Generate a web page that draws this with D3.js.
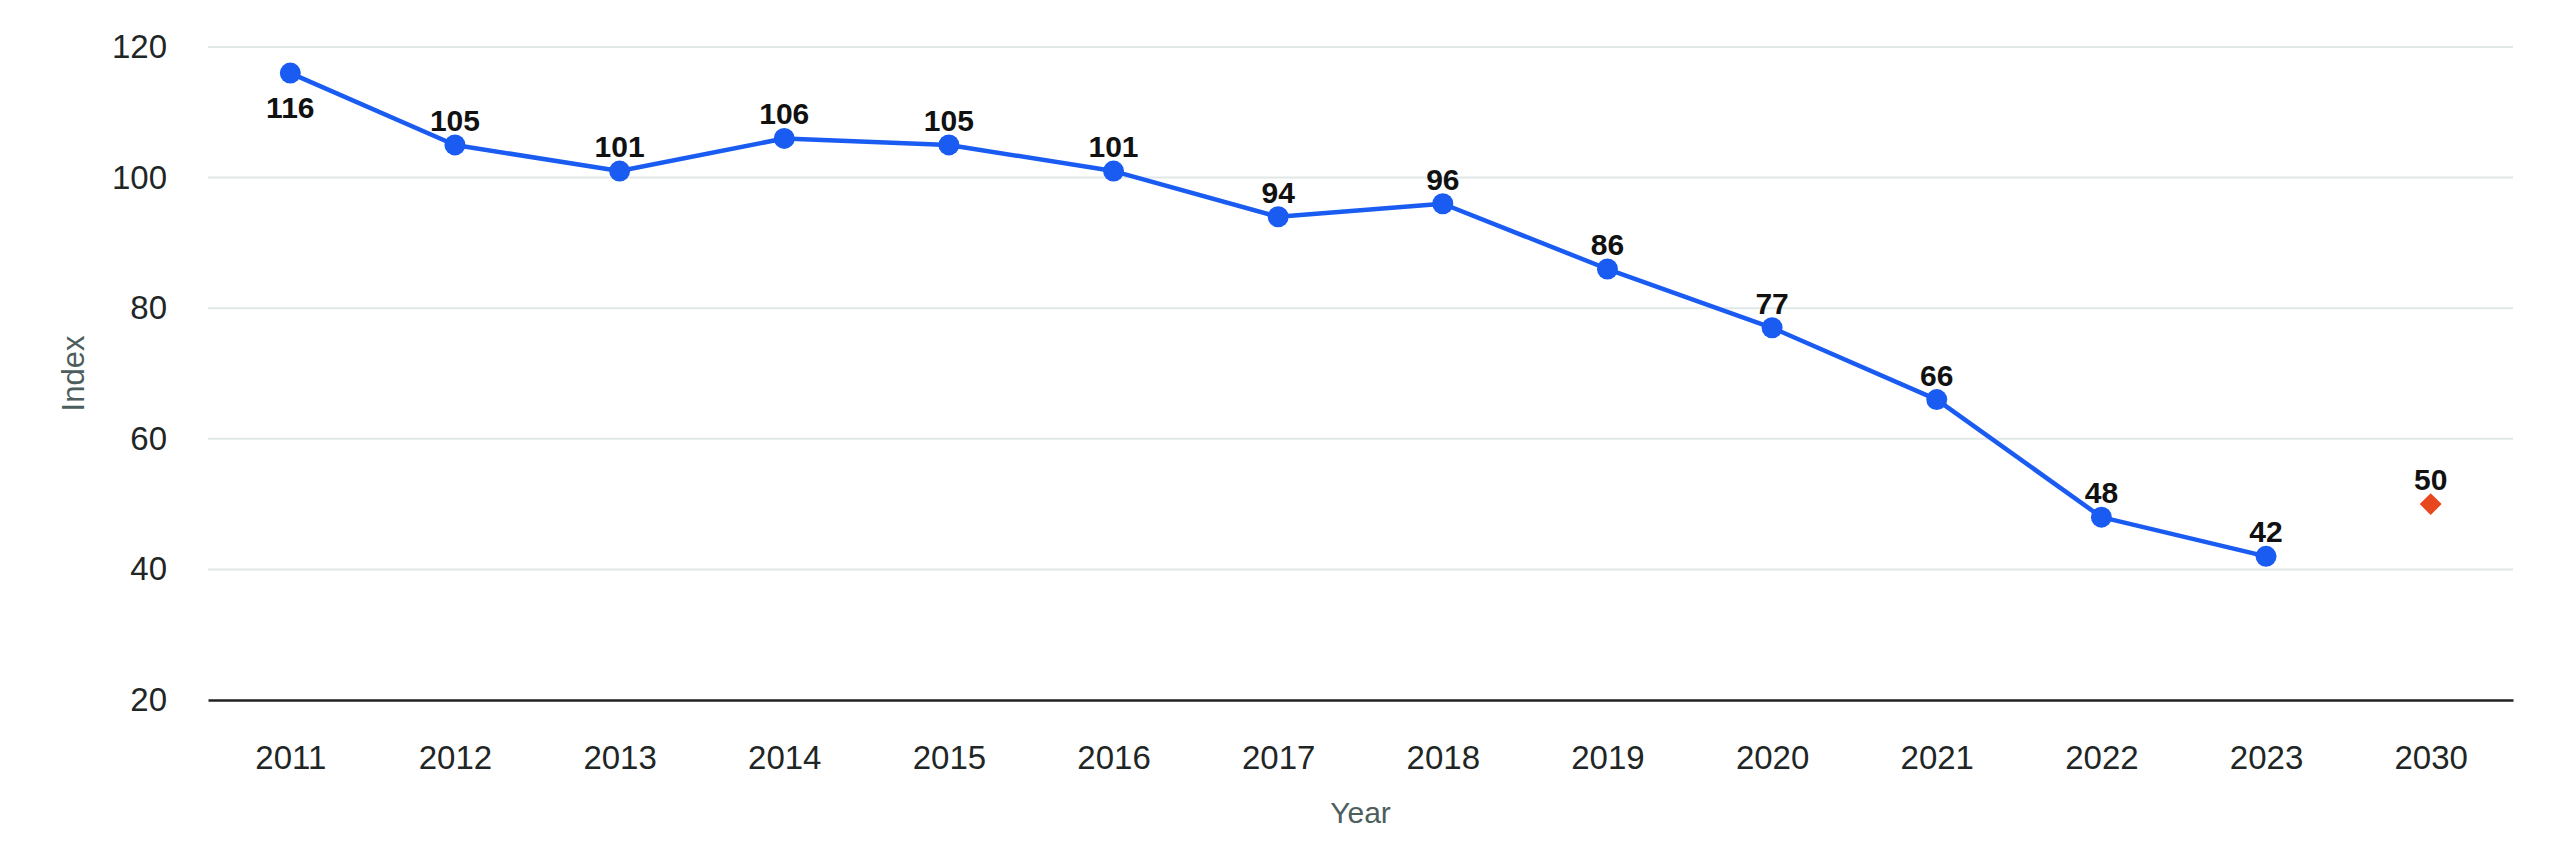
<!DOCTYPE html>
<html>
<head>
<meta charset="utf-8">
<script src="https://cdn.jsdelivr.net/npm/d3@7"></script>
<style>
  body { margin: 0; background: #fff; }
  text { font-family: "Liberation Sans", Arial, Helvetica, sans-serif; }
</style>
</head>
<body>
<div id="chart"></div>
<script>
const years = ["2011", "2012", "2013", "2014", "2015", "2016", "2017", "2018", "2019", "2020", "2021", "2022", "2023", "2030"];
const actualYears = ["2011", "2012", "2013", "2014", "2015", "2016", "2017", "2018", "2019", "2020", "2021", "2022", "2023"];
const actualValues = [116, 105, 101, 106, 105, 101, 94, 96, 86, 77, 66, 48, 42];
const targetYears = ["2030"];
const targetValues = [50];
const yTicks = [20, 40, 60, 80, 100, 120];

const width = 2560;
const height = 865;
const plotLeft = 208, plotRight = 2513, plotTop = 47, plotBottom = 700;

const svg = d3.select('#chart').append('svg')
  .attr('width', width)
  .attr('height', height);

const x = d3.scalePoint()
  .domain(years)
  .range([plotLeft, plotRight])
  .padding(0.5);

const y = d3.scaleLinear()
  .domain([20, 120])
  .range([plotBottom, plotTop]);

// gridlines
svg.append('g')
  .selectAll('line')
  .data(yTicks.filter(d => d > 20))
  .join('line')
    .attr('x1', plotLeft)
    .attr('x2', plotRight)
    .attr('y1', d => y(d))
    .attr('y2', d => y(d))
    .attr('stroke', '#e1e8e8')
    .attr('stroke-width', 2);

// y axis labels
const yAxis = svg.append('g')
  .attr('transform', `translate(${plotLeft},0)`)
  .call(d3.axisLeft(y).tickValues(yTicks).tickSize(0).tickPadding(41));
yAxis.select('.domain').remove();
yAxis.selectAll('text')
  .attr('font-size', 33)
  .attr('fill', '#1f2626')
  .attr('font-family', '"Liberation Sans", Arial, sans-serif');

// x axis
const xAxis = svg.append('g')
  .attr('transform', `translate(0,${plotBottom})`)
  .call(d3.axisBottom(x).tickSize(0).tickPadding(46));
xAxis.select('.domain')
  .attr('stroke', '#222')
  .attr('stroke-width', 2.5);
xAxis.selectAll('text')
  .attr('font-size', 33)
  .attr('fill', '#1f2626')
  .attr('font-family', '"Liberation Sans", Arial, sans-serif');

// axis titles
svg.append('text')
  .attr('x', (plotLeft + plotRight) / 2)
  .attr('y', 823)
  .attr('text-anchor', 'middle')
  .attr('font-size', 30)
  .attr('fill', '#4d5e5e')
  .text('Year');

svg.append('text')
  .attr('transform', `translate(84,${(plotTop + plotBottom) / 2}) rotate(-90)`)
  .attr('text-anchor', 'middle')
  .attr('font-size', 31)
  .attr('fill', '#4d5e5e')
  .text('Index');

const actual = actualYears.map((d, i) => ({ year: d, value: actualValues[i] }));
const target = targetYears.map((d, i) => ({ year: d, value: targetValues[i] }));

const line = d3.line()
  .x(d => x(d.year))
  .y(d => y(d.value));

svg.append('path')
  .datum(actual)
  .attr('d', line)
  .attr('fill', 'none')
  .attr('stroke', '#1a5cf2')
  .attr('stroke-width', 4.5)
  .attr('stroke-linejoin', 'round');

svg.append('g')
  .selectAll('circle')
  .data(actual)
  .join('circle')
    .attr('cx', d => x(d.year))
    .attr('cy', d => y(d.value))
    .attr('r', 10.5)
    .attr('fill', '#1a5cf2');

svg.append('g')
  .selectAll('path')
  .data(target)
  .join('path')
    .attr('d', d3.symbol(d3.symbolSquare, 240))
    .attr('transform', d => `translate(${x(d.year)},${y(d.value)}) rotate(45)`)
    .attr('fill', '#e8481f');

// data labels: above the point unless that runs out of the plot
const labelSize = 30;
function labelY(d) {
  const py = y(d.value);
  return (py - 14 - labelSize * 0.72 < plotTop) ? py + 45 : py - 14;
}

svg.append('g')
  .selectAll('text')
  .data(actual.concat(target))
  .join('text')
    .attr('x', d => x(d.year))
    .attr('y', d => labelY(d))
    .attr('text-anchor', 'middle')
    .attr('font-size', labelSize)
    .attr('font-weight', 'bold')
    .attr('fill', '#111')
    .text(d => d.value);
</script>
</body>
</html>
